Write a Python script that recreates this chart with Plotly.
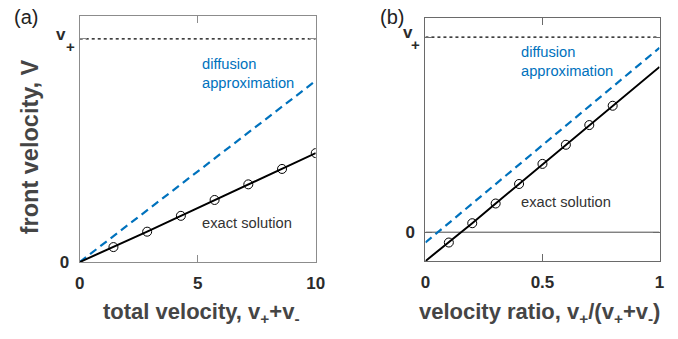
import plotly.graph_objects as go

W, H = 678, 339

# ---- data -------------------------------------------------------------
# panel (a): front velocity vs total velocity (V in units of v+)
a_exact_x = [0, 10/7, 20/7, 30/7, 40/7, 50/7, 60/7, 10]
a_exact_y = [0, 0.067, 0.136, 0.207, 0.278, 0.348, 0.417, 0.488]
a_diff_x = [0, 10]
a_diff_y = [0, 0.812]

# panel (b): front velocity vs velocity ratio
b_exact_x = [0, 0.1, 0.2, 0.3, 0.4, 0.5, 0.6, 0.7, 0.8, 1.0]
b_exact_y = [-0.148, -0.053, 0.046, 0.147, 0.247, 0.350, 0.448, 0.549, 0.648, 0.847]
b_diff_x = [0, 1]
b_diff_y = [-0.053, 0.945]

v_plus = 1.0
a_xticks = [0, 5, 10]
a_xticklabels = ["0", "5", "10"]
b_xticks = [0, 0.5, 1]
b_xticklabels = ["0", "0.5", "1"]
yticks = [0, v_plus]
yticklabels = ["0", ""]   # the v+ label is drawn as an annotation below

# ---- styling ----------------------------------------------------------
FONT = "Liberation Sans"
BLUE = "#0072BD"
AXIS_GRAY_A = "#8c8c8c"
AXIS_GRAY_B = "#6a6a6a"
TITLE_GRAY = "#454545"
TICK_DARK = "#2b2b2b"


def px(x):
    return x / W


def py(y):
    return 1 - y / H


fig = go.Figure()

# panel (a)
fig.add_trace(go.Scatter(x=[0, 10], y=[v_plus, v_plus], mode="lines",
                         line=dict(color="black", width=1.2, dash="dot"),
                         xaxis="x", yaxis="y", showlegend=False))
fig.add_trace(go.Scatter(x=a_diff_x, y=a_diff_y, mode="lines",
                         line=dict(color=BLUE, width=2.2, dash="8px,5px"),
                         xaxis="x", yaxis="y", showlegend=False))
fig.add_trace(go.Scatter(x=a_exact_x, y=a_exact_y, mode="lines",
                         line=dict(color="black", width=2),
                         xaxis="x", yaxis="y", showlegend=False))
fig.add_trace(go.Scatter(x=a_exact_x[1:], y=a_exact_y[1:], mode="markers",
                         marker=dict(symbol="circle-open", size=9,
                                     color="black", line=dict(width=1)),
                         xaxis="x", yaxis="y", showlegend=False))

# panel (b)
fig.add_trace(go.Scatter(x=[0, 1], y=[0, 0], mode="lines",
                         line=dict(color="#4a4a4a", width=1),
                         xaxis="x2", yaxis="y2", showlegend=False))
fig.add_trace(go.Scatter(x=[0, 1], y=[v_plus, v_plus], mode="lines",
                         line=dict(color="black", width=1.2, dash="dot"),
                         xaxis="x2", yaxis="y2", showlegend=False))
fig.add_trace(go.Scatter(x=b_diff_x, y=b_diff_y, mode="lines",
                         line=dict(color=BLUE, width=2.2, dash="8px,5px"),
                         xaxis="x2", yaxis="y2", showlegend=False))
fig.add_trace(go.Scatter(x=b_exact_x, y=b_exact_y, mode="lines",
                         line=dict(color="black", width=2),
                         xaxis="x2", yaxis="y2", showlegend=False))
fig.add_trace(go.Scatter(x=b_exact_x[1:-1], y=b_exact_y[1:-1], mode="markers",
                         marker=dict(symbol="circle-open", size=9,
                                     color="black", line=dict(width=1)),
                         xaxis="x2", yaxis="y2", showlegend=False))


def axis_style(color):
    return dict(showline=True, linecolor=color, linewidth=1,
                mirror="ticks", ticks="inside", ticklen=7,
                tickcolor=color, tickwidth=1, showgrid=False,
                zeroline=False, ticklabelstandoff=6,
                tickfont=dict(family=FONT, size=17, color=TICK_DARK,
                              weight="bold"))


fig.update_layout(
    width=W, height=H, autosize=False,
    margin=dict(l=0, r=0, t=0, b=0),
    paper_bgcolor="white", plot_bgcolor="white",
    xaxis=dict(domain=[px(76.3), px(317.3)], range=[0, 10],
               tickvals=a_xticks, ticktext=a_xticklabels,
               anchor="y", **axis_style(AXIS_GRAY_A)),
    yaxis=dict(domain=[py(270), py(16.3)], range=[0, 1.103],
               tickvals=yticks, ticktext=yticklabels,
               anchor="x", **axis_style(AXIS_GRAY_A)),
    xaxis2=dict(domain=[px(429.3), px(668.3)], range=[0, 1],
                tickvals=b_xticks, ticktext=b_xticklabels,
                anchor="y2", **axis_style(AXIS_GRAY_B)),
    yaxis2=dict(domain=[py(269), py(18.7)], range=[-0.148, 1.097],
                tickvals=yticks, ticktext=yticklabels,
                anchor="x2", **axis_style(AXIS_GRAY_B)),
)

TICKF = dict(family=FONT, size=17, color=TICK_DARK, weight="bold")
SUBF = dict(family=FONT, size=15, color=TICK_DARK, weight="bold")
TITLEF = dict(family=FONT, size=22, color=TITLE_GRAY, weight="bold")

annotations = [
    # panel labels
    dict(text="(a)", x=px(7), y=py(18), xanchor="left", yanchor="middle",
         font=dict(family=FONT, size=20, color="#222222")),
    dict(text="(b)", x=px(381), y=py(18), xanchor="left", yanchor="middle",
         font=dict(family=FONT, size=20, color="#222222")),
    # v+ tick labels
    dict(text="v", x=px(57.5), y=py(36), xanchor="center", yanchor="middle",
         font=TICKF),
    dict(text="+", x=px(66.5), y=py(48), xanchor="center", yanchor="middle",
         font=SUBF),
    dict(text="v", x=px(411), y=py(34), xanchor="center", yanchor="middle",
         font=TICKF),
    dict(text="+", x=px(419.5), y=py(46), xanchor="center", yanchor="middle",
         font=SUBF),
    # axis titles
    dict(text="front velocity, V", x=px(25), y=py(59), textangle=-90,
         xanchor="center", yanchor="top",
         font=dict(family=FONT, size=23.5, color=TITLE_GRAY, weight="bold")),
    dict(text="total velocity, v<sub>+</sub>+v<sub>-</sub>", x=px(201), y=0,
         xanchor="center", yanchor="bottom", font=TITLEF),
    dict(text="velocity ratio, v<sub>+</sub>/(v<sub>+</sub>+v<sub>-</sub>)",
         x=px(546), y=0, xanchor="center", yanchor="bottom", font=TITLEF),
    # in-plot labels
    dict(text="diffusion<br>approximation", x=px(199), y=py(76),
         xanchor="left", yanchor="middle", align="left",
         font=dict(family=FONT, size=14.7, color=BLUE)),
    dict(text="exact solution", x=px(199), y=py(229.3),
         xanchor="left", yanchor="middle",
         font=dict(family=FONT, size=14.7, color="#333333")),
    dict(text="diffusion<br>approximation", x=px(525), y=py(63),
         xanchor="left", yanchor="middle", align="left",
         font=dict(family=FONT, size=14.7, color=BLUE)),
    dict(text="exact solution", x=px(525), y=py(207.7),
         xanchor="left", yanchor="middle",
         font=dict(family=FONT, size=14.7, color="#333333")),
]
for a in annotations:
    a.update(xref="paper", yref="paper", showarrow=False)
fig.update_layout(annotations=annotations)

fig.write_html("out.html")
